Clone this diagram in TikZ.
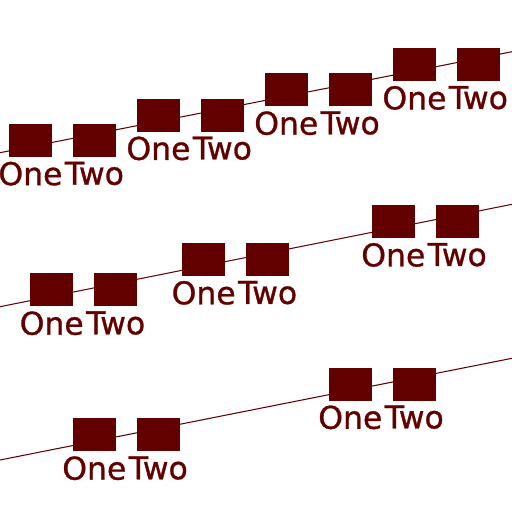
\documentclass[tikz,border=0pt]{standalone}
\usepackage{fontspec}
\setmainfont{DejaVu Sans}
\newfontfamily\heavyfont{DejaVu Sans}[FakeBold=0.9]
\usepackage{tikz}
\usetikzlibrary{positioning, calc}
\definecolor{maroon}{RGB}{98,0,0}

\begin{document}
\begin{tikzpicture}[x=0.02cm, y=0.02cm,
    box/.style={fill=maroon, minimum width=0.86cm, minimum height=0.66cm, inner sep=0pt},
    word/.style={text=maroon, inner sep=2.4pt, font=\heavyfont\fontsize{17.9}{20}\selectfont}]
    \useasboundingbox (0,0) rectangle (512,512);

    % Line ends
    \coordinate (a1) at (0,359.3);  \coordinate (b1) at (512,460.3);
    \coordinate (a2) at (0,205.3);  \coordinate (b2) at (512,307.7);
    \coordinate (a3) at (0,52);     \coordinate (b3) at (512,153.7);

    % Draw lines
    \foreach \r in {1,2,3}
      \draw[maroon, line width=0.6pt] (a\r) -- (b\r);

    % Boxes and labels along the lines
    \foreach \r/\k/\t in {1/1/0.122, 1/2/0.372, 1/3/0.6217, 1/4/0.872,
                          2/1/0.1635, 2/2/0.4603, 2/3/0.8307,
                          3/1/0.2467, 3/2/0.7467} {
      \coordinate (c\r\k) at ($(a\r)!\t!(b\r)$);
      \node[box] (one\r\k) at ([xshift=-0.64cm]c\r\k) {};
      \node[box] (two\r\k) at ([xshift=0.64cm]c\r\k) {};
      \node[word, below=0pt of one\r\k] {One};
      \node[word, below=0pt of two\r\k] {Two};
    }

\end{tikzpicture}
\end{document}
